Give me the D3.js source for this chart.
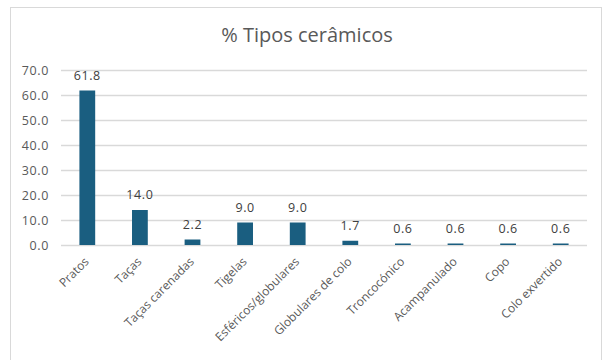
<!DOCTYPE html>
<html>
<head>
<meta charset="utf-8">
<script src="https://cdn.jsdelivr.net/npm/d3@7"></script>
<style>
  html, body { margin: 0; padding: 0; background: #fff; }
  svg { display: block; }
  text { font-family: "Open Sans", "Liberation Sans", sans-serif; }
</style>
</head>
<body>
<svg id="chart" width="605" height="360"></svg>
<script>
// Share of each ceramic type (%)
const categories = ["Pratos", "Taças", "Taças carenadas", "Tigelas", "Esféricos/globulares",
  "Globulares de colo", "Troncocónico", "Acampanulado", "Copo", "Colo exvertido"];
const values = [61.8, 14.0, 2.2, 9.0, 9.0, 1.7, 0.6, 0.6, 0.6, 0.6];
const yTicks = [0, 10, 20, 30, 40, 50, 60, 70];
const title = "% Tipos cerâmicos";

const svg = d3.select("#chart");
const plot = { left: 61, right: 587, top: 70, bottom: 245 };

// chart frame
svg.append("rect")
  .attr("x", 10.5).attr("y", 7.5)
  .attr("width", 591).attr("height", 360)
  .attr("fill", "#fff").attr("stroke", "#d9d9d9").attr("stroke-width", 1);

svg.append("text")
  .attr("x", 307).attr("y", 42)
  .attr("text-anchor", "middle")
  .attr("font-family", "'Liberation Sans Narrow', 'Roboto', sans-serif")
  .attr("font-size", 20)
  .attr("fill", "#595959")
  .text(title);

const x = d3.scaleBand().domain(categories).range([plot.left, plot.right]).paddingInner(0.7).paddingOuter(0.35);
const y = d3.scaleLinear().domain([0, 70]).range([plot.bottom, plot.top]);

// gridlines and y labels
const yAxis = d3.axisLeft(y).tickValues(yTicks).tickFormat(d3.format(".1f"))
  .tickSize(-(plot.right - plot.left)).tickPadding(12);
const gy = svg.append("g").attr("transform", `translate(${plot.left},0)`).call(yAxis);
gy.select(".domain").remove();
gy.selectAll(".tick line").attr("stroke", "#d9d9d9").attr("stroke-width", 1.3);
gy.selectAll(".tick text").attr("fill", "#595959").attr("font-size", 12.5)
  .attr("letter-spacing", 0.6);

// bars
svg.append("g").selectAll("rect")
  .data(values)
  .join("rect")
  .attr("x", (d, i) => x(categories[i]))
  .attr("width", x.bandwidth())
  .attr("y", d => y(d))
  .attr("height", d => y(0) - y(d))
  .attr("fill", "#1a5e80");

// value labels
svg.append("g").selectAll("text")
  .data(values)
  .join("text")
  .attr("x", (d, i) => x(categories[i]) + x.bandwidth() / 2)
  .attr("y", d => y(d) - 11)
  .attr("text-anchor", "middle")
  .attr("font-size", 12.5)
  .attr("letter-spacing", 0.6)
  .attr("fill", "#404040")
  .text(d => d.toFixed(1));

// category labels, rotated
const xAxis = d3.axisBottom(x).tickSize(0).tickPadding(0);
const gx = svg.append("g").attr("transform", `translate(0,${plot.bottom})`).call(xAxis);
gx.select(".domain").remove();
gx.selectAll(".tick text")
  .attr("fill", "#595959").attr("font-size", 12)
  .attr("text-anchor", "end")
  .attr("dy", null)
  .attr("transform", "translate(-5,10) rotate(-45)")
  .attr("y", 0).attr("x", 0)
  .attr("dominant-baseline", "hanging");
</script>
</body>
</html>
